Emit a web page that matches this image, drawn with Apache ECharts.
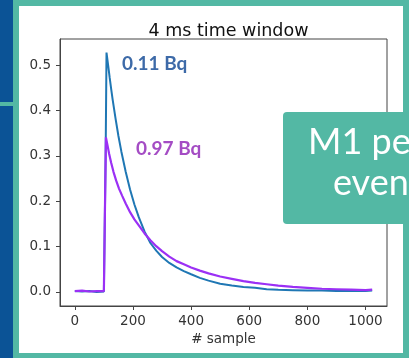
<!DOCTYPE html>
<html>
<head>
<meta charset="utf-8">
<script src="https://cdn.jsdelivr.net/npm/echarts@6/dist/echarts.min.js"></script>
<style>
html,body{margin:0;padding:0;background:#53b8a4;}
#c{width:409px;height:358px;}
</style>
</head>
<body>
<div id="c"></div>
<script>
// ---- data ----
const titleText = '4 ms time window';
const xAxisName = '# sample';
const xTicks = [0, 200, 400, 600, 800, 1000];
const yTicks = [0.0, 0.1, 0.2, 0.3, 0.4, 0.5];
const seriesNames = ['0.11 Bq', '0.97 Bq'];

const blueSamples = [0, 25, 50, 75, 100, 105, 106, 109, 115, 120, 125, 130, 140, 150, 160, 175, 190, 205, 220, 240, 260, 280, 300, 325, 350, 375, 400, 430, 460, 500, 540, 580, 620, 660, 700, 750, 800, 850, 900, 950, 1000, 1023];
const blueValues = [0.002, 0.001, 0.002, 0.000, 0.001, 0.002, 0.300, 0.528, 0.498, 0.472, 0.448, 0.425, 0.383, 0.344, 0.310, 0.265, 0.226, 0.193, 0.165, 0.133, 0.108, 0.091, 0.077, 0.064, 0.054, 0.046, 0.039, 0.031, 0.025, 0.018, 0.014, 0.011, 0.009, 0.006, 0.005, 0.004, 0.003, 0.003, 0.002, 0.002, 0.002, 0.003];

const purpleSamples = [0, 25, 50, 75, 100, 103, 104, 107, 112, 118, 125, 133, 142, 152, 163, 175, 190, 205, 220, 240, 260, 280, 300, 325, 350, 375, 400, 430, 460, 500, 540, 580, 620, 660, 700, 750, 800, 850, 900, 950, 1000, 1023];
const purpleValues = [0.002, 0.003, 0.001, 0.002, 0.002, 0.003, 0.200, 0.341, 0.325, 0.305, 0.285, 0.265, 0.246, 0.228, 0.212, 0.195, 0.176, 0.160, 0.147, 0.129, 0.114, 0.101, 0.090, 0.078, 0.068, 0.061, 0.054, 0.047, 0.041, 0.034, 0.029, 0.024, 0.020, 0.017, 0.014, 0.011, 0.009, 0.007, 0.006, 0.005, 0.004, 0.005];

const boxLines = ['M1 pe', 'even'];
// --------------------------------------

const chart = echarts.init(document.getElementById('c'), null, {renderer: 'canvas'});
const zip = (xs, ys) => xs.map((x, i) => [x, ys[i]]);
const tickFont = {fontFamily: 'DejaVu Sans', fontSize: 13.5, color: '#333'};

chart.setOption({
  animation: false,
  backgroundColor: '#53b8a4',
  title: {
    text: titleText, left: 223.5, top: 17, textAlign: 'center',
    textStyle: {fontFamily: 'DejaVu Sans', fontSize: 17.5, fontWeight: 'normal', color: '#111'}
  },
  grid: {left: 60, right: 22, top: 39, bottom: 52, show: true, borderColor: '#444', borderWidth: 1, backgroundColor: 'transparent'},
  xAxis: {
    type: 'value', min: -51, max: 1074,
    splitLine: {show: false},
    axisLine: {show: true, onZero: false, lineStyle: {color: '#444'}},
    axisTick: {show: true, customValues: xTicks, inside: false, length: 4, lineStyle: {color: '#444'}},
    axisLabel: Object.assign({customValues: xTicks, margin: 8, formatter: v => String(v)}, tickFont),
    name: xAxisName, nameLocation: 'middle', nameGap: 25,
    nameTextStyle: tickFont
  },
  yAxis: {
    type: 'value', min: -0.031, max: 0.558,
    splitLine: {show: false},
    axisLine: {show: true, onZero: false, lineStyle: {color: '#444'}},
    axisTick: {show: true, customValues: yTicks, length: 4, lineStyle: {color: '#444'}},
    axisLabel: Object.assign({customValues: yTicks, margin: 9, formatter: v => v.toFixed(1)}, tickFont)
  },
  series: [
    {name: seriesNames[0], type: 'line', data: zip(blueSamples, blueValues), showSymbol: false,
     lineStyle: {color: '#1f77b4', width: 2}, z: 3},
    {name: seriesNames[1], type: 'line', data: zip(purpleSamples, purpleValues), showSymbol: false,
     lineStyle: {color: '#9b30f5', width: 2.2}, z: 4}
  ],
  graphic: [
    {type: 'rect', z: -100, shape: {x: 0, y: 0, width: 13, height: 102}, style: {fill: '#0b5396'}},
    {type: 'rect', z: -100, shape: {x: 0, y: 106, width: 13, height: 252}, style: {fill: '#0b5396'}},
    {type: 'rect', z: -90, shape: {x: 19, y: 6, width: 384, height: 347}, style: {fill: '#ffffff'}},
    {type: 'text', z: 50, left: 122, top: 54, style: {text: seriesNames[0], fill: '#3d6aa8', font: 'bold 19px Lato'}},
    {type: 'text', z: 50, left: 136, top: 139, style: {text: seriesNames[1], fill: '#a44cc4', font: 'bold 19px Lato'}},
    {type: 'rect', z: 200, shape: {x: 283, y: 112, width: 140, height: 112, r: 4}, style: {fill: '#53b8a4'}},
    {type: 'text', z: 210, left: 308, top: 124, style: {text: boxLines[0], fill: '#ffffff', font: '36px Lato'}},
    {type: 'text', z: 210, left: 333, top: 165, style: {text: boxLines[1], fill: '#ffffff', font: '36px Lato'}}
  ]
});
</script>
</body>
</html>
